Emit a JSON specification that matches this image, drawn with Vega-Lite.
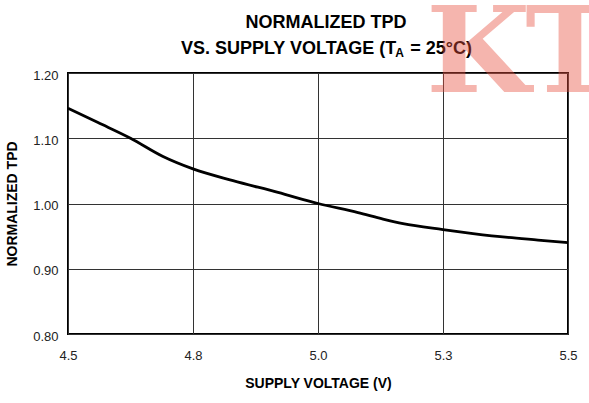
{
  "$schema": "https://vega.github.io/schema/vega-lite/v6.json",
  "width": 500,
  "height": 261,
  "autosize": {"type": "none"},
  "padding": {"left": 68, "top": 73, "right": 21, "bottom": 69},
  "background": "white",
  "config": {
    "font": "Liberation Sans",
    "view": {"stroke": "#000", "strokeWidth": 2},
    "axis": {
      "domain": false,
      "ticks": false,
      "tickSize": 0,
      "grid": true,
      "gridColor": "#333",
      "gridWidth": 1,
      "gridOpacity": 1,
      "labelFlush": false,
      "labelFont": "Liberation Sans",
      "labelFontSize": 13,
      "labelColor": "#222",
      "titleFont": "Liberation Sans",
      "titleFontSize": 14,
      "titleFontWeight": "bold",
      "titleColor": "#000"
    }
  },
  "data": {
    "values": [
      {"voltage": 4.50, "tpd": 1.146},
      {"voltage": 4.56, "tpd": 1.124},
      {"voltage": 4.625, "tpd": 1.100},
      {"voltage": 4.69, "tpd": 1.072},
      {"voltage": 4.75, "tpd": 1.053},
      {"voltage": 4.83, "tpd": 1.035},
      {"voltage": 4.92, "tpd": 1.017},
      {"voltage": 5.00, "tpd": 1.000},
      {"voltage": 5.08, "tpd": 0.986},
      {"voltage": 5.13, "tpd": 0.976},
      {"voltage": 5.17, "tpd": 0.969},
      {"voltage": 5.25, "tpd": 0.960},
      {"voltage": 5.31, "tpd": 0.954},
      {"voltage": 5.38, "tpd": 0.948},
      {"voltage": 5.44, "tpd": 0.944},
      {"voltage": 5.50, "tpd": 0.940}
    ]
  },
  "layer": [
    {
      "mark": {"type": "line", "color": "#000", "strokeWidth": 2.8, "interpolate": "monotone"},
      "encoding": {
        "x": {
          "field": "voltage",
          "type": "quantitative",
          "scale": {"domain": [4.5, 5.5], "nice": false, "zero": false},
          "axis": {
            "values": [4.5, 4.75, 5.0, 5.25, 5.5],
            "format": ".1f",
            "title": "SUPPLY VOLTAGE (V)",
            "labelPadding": 15,
            "titlePadding": 14
          }
        },
        "y": {
          "field": "tpd",
          "type": "quantitative",
          "scale": {"domain": [0.8, 1.2], "nice": false, "zero": false},
          "axis": {
            "values": [0.8, 0.9, 1.0, 1.1, 1.2],
            "format": ".2f",
            "title": "NORMALIZED TPD",
            "labelPadding": 10,
            "labelOffset": 2,
            "titlePadding": 13
          }
        }
      }
    },
    {
      "data": {"values": [{}]},
      "mark": {"type": "text", "text": "NORMALIZED TPD", "font": "Liberation Sans", "fontSize": 18, "fontWeight": "bold", "color": "#000", "align": "center", "baseline": "alphabetic"},
      "encoding": {
        "x": {"datum": 5.016, "type": "quantitative"},
        "y": {"datum": 1.269, "type": "quantitative"}
      }
    },
    {
      "data": {"values": [{}]},
      "mark": {"type": "text", "text": "VS. SUPPLY VOLTAGE (T\u2002 = 25°C)", "font": "Liberation Sans", "fontSize": 18, "fontWeight": "bold", "color": "#000", "align": "center", "baseline": "alphabetic"},
      "encoding": {
        "x": {"datum": 5.017, "type": "quantitative"},
        "y": {"datum": 1.2291, "type": "quantitative"}
      }
    },
    {
      "data": {"values": [{}]},
      "mark": {"type": "text", "text": "A", "font": "Liberation Sans", "fontSize": 12, "fontWeight": "bold", "color": "#000", "align": "center", "baseline": "alphabetic"},
      "encoding": {
        "x": {"datum": 5.163, "type": "quantitative"},
        "y": {"datum": 1.2245, "type": "quantitative"}
      }
    },
    {
      "data": {"values": [{}]},
      "mark": {"type": "text", "text": "K", "font": "DejaVu Serif", "fontSize": 120, "fontWeight": "bold", "color": "#e8503f", "opacity": 0.42, "align": "left", "baseline": "alphabetic"},
      "encoding": {
        "x": {"datum": 5.216, "type": "quantitative"},
        "y": {"datum": 1.171, "type": "quantitative"}
      }
    },
    {
      "data": {"values": [{}]},
      "mark": {"type": "text", "text": "T", "font": "DejaVu Serif", "fontSize": 120, "fontWeight": "bold", "color": "#e8503f", "opacity": 0.42, "align": "center", "baseline": "alphabetic"},
      "encoding": {
        "x": {"datum": 5.504, "type": "quantitative"},
        "y": {"datum": 1.171, "type": "quantitative"}
      }
    }
  ]
}
